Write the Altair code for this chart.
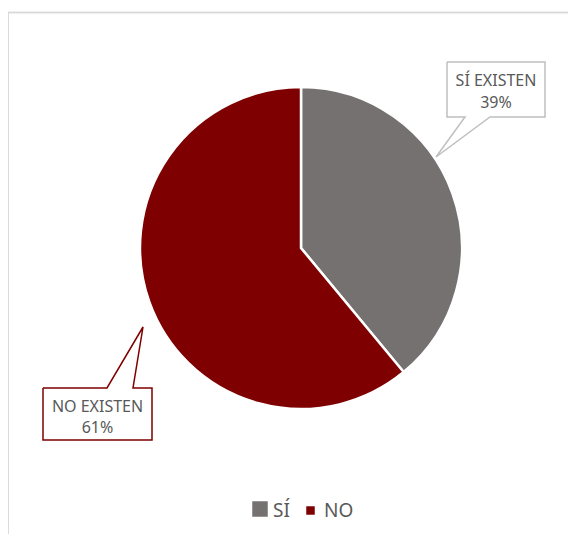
import altair as alt
import pandas as pd

# ---- data ----
categories = ["SÍ", "NO"]
values = [39, 61]
callout_labels = ["SÍ EXISTEN", "NO EXISTEN"]
slice_colors = ["#767171", "#7F0000"]

# ---- layout (pixels in chart coordinates) ----
W, H = 560, 526
CX, CY, R = 293, 240, 161
FONT = "Noto Sans"
TXT = "#595959"

xs = alt.Scale(domain=[0, W], nice=False, zero=False)
ys = alt.Scale(domain=[0, H], nice=False, zero=False, reverse=True)
X = lambda f: alt.X(f, type="quantitative", scale=xs, axis=None)
Y = lambda f: alt.Y(f, type="quantitative", scale=ys, axis=None)

pie_df = pd.DataFrame({"cat": categories, "value": values, "idx": [0, 1]})

pie = alt.Chart(pie_df).mark_arc(outerRadius=R, stroke="white", strokeWidth=2.5).encode(
    theta=alt.Theta("value:Q", stack=True),
    color=alt.Color("cat:N", scale=alt.Scale(domain=categories, range=slice_colors), legend=None),
    order=alt.Order("idx:Q"),
    x=alt.value(CX),
    y=alt.value(CY),
)

def poly(points):
    return pd.DataFrame({"x": [p[0] - 8 for p in points],
                         "y": [p[1] - 8 for p in points],
                         "o": list(range(len(points)))})

si_box = poly([(447, 62), (545, 62), (545, 117), (490, 117), (436, 157),
               (465, 117), (447, 117), (447, 62)])
no_box = poly([(43, 388), (107, 388), (143, 327), (133, 388), (152, 388),
               (152, 440), (43, 440), (43, 388)])

si_line = alt.Chart(si_box).mark_line(color="#BFBFBF", strokeWidth=1.5).encode(
    x=X("x"), y=Y("y"), order="o:Q")
no_line = alt.Chart(no_box).mark_line(color="#7F0000", strokeWidth=1.5).encode(
    x=X("x"), y=Y("y"), order="o:Q")

label_df = pd.DataFrame({
    "text": [callout_labels[0], f"{values[0]}%", callout_labels[1], f"{values[1]}%"],
    "x": [496 - 8, 496 - 8, 97.5 - 8, 97.5 - 8],
    "y": [86 - 8, 108 - 8, 412 - 8, 433 - 8],
})
labels = alt.Chart(label_df).mark_text(
    font=FONT, fontSize=16, color=TXT, align="center", baseline="alphabetic"
).encode(x=X("x"), y=Y("y"), text="text:N")

# custom legend
leg_sym_df = pd.DataFrame({"cat": categories, "x": [252, 302.5], "y": [501, 502.5], "s": [240, 72]})
leg_sym = alt.Chart(leg_sym_df).mark_point(shape="square", filled=True, opacity=1).encode(
    x=X("x"), y=Y("y"),
    color=alt.Color("cat:N", scale=alt.Scale(domain=categories, range=slice_colors), legend=None),
    size=alt.Size("s:Q", scale=None, legend=None),
)
leg_txt_df = pd.DataFrame({"text": categories, "x": [265, 316], "y": [509, 509]})
leg_txt = alt.Chart(leg_txt_df).mark_text(
    font=FONT, fontSize=19, color=TXT, align="left", baseline="alphabetic"
).encode(x=X("x"), y=Y("y"), text="text:N")

frame_left = alt.Chart(pie_df).mark_rule(color="#D9D9D9", strokeWidth=1.5).encode(
    x=alt.value(0), y=alt.value(4), y2=alt.value(H))
frame_top = alt.Chart(pie_df).mark_rule(color="#D9D9D9", strokeWidth=1.5).encode(
    x=alt.value(0), x2=alt.value(W), y=alt.value(4.5))

chart = alt.layer(
    frame_left, frame_top, pie, si_line, no_line, labels, leg_sym, leg_txt
).properties(
    width=W, height=H, padding=0, autosize=alt.AutoSizeParams(type="none")
).configure_view(stroke=None)

chart.save("out.html", embed_options={"renderer": "svg", "actions": False})
